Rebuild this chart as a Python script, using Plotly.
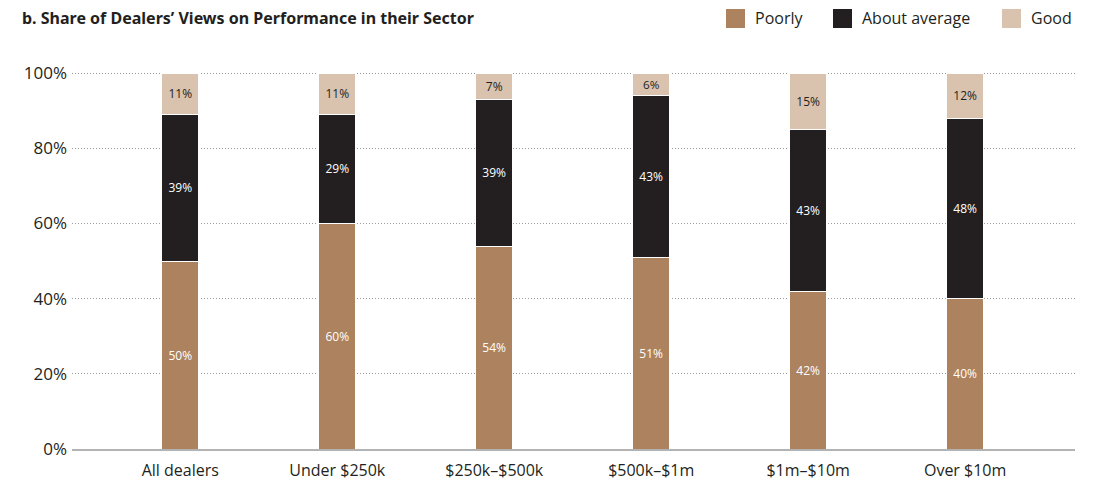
import plotly.graph_objects as go

categories = ["All dealers", "Under $250k", "$250k–$500k", "$500k–$1m", "$1m–$10m", "Over $10m"]
poorly = [50, 60, 54, 51, 42, 40]
about_average = [39, 29, 39, 43, 43, 48]
good = [11, 11, 7, 6, 15, 12]
y_ticks = [0, 20, 40, 60, 80, 100]

series = [
    ("Poorly", poorly, "#ad825e", "white"),
    ("About average", about_average, "#231f20", "white"),
    ("Good", good, "#d9c2ae", "#231f20"),
]

W, H = 1094, 483
PL, PR, PT, PB = 72, 19, 72, 34
PW, PH = W - PL - PR, H - PT - PB

fig = go.Figure()
for name, vals, color, txtcolor in series:
    fig.add_trace(go.Bar(
        name=name,
        x=categories,
        y=vals,
        marker=dict(color=color, line=dict(color="white", width=1)),
        text=[f"{v}%" for v in vals],
        textposition="inside",
        insidetextanchor="middle",
        textangle=0,
        textfont=dict(family="Open Sans", size=12, color=txtcolor),
        width=0.235,
        showlegend=False,
    ))

# Legend drawn as swatches + labels along the top right
legend_x = [726, 833, 1002]
for (name, _, color, _), lx in zip(series, legend_x):
    fig.add_shape(
        type="rect", xref="paper", yref="paper",
        x0=(lx - PL) / PW, x1=(lx + 19 - PL) / PW,
        y0=1 + (PT - 28) / PH, y1=1 + (PT - 9) / PH,
        fillcolor=color, line=dict(width=0), layer="above",
    )
    fig.add_annotation(
        x=(lx + 27 - PL) / PW, y=1 + (PT - 18.5) / PH,
        xref="paper", yref="paper", xanchor="left", yanchor="middle",
        text=name, showarrow=False,
        font=dict(family="Open Sans", size=16, color="#231f20"),
    )

fig.update_layout(
    barmode="stack",
    width=W,
    height=H,
    margin=dict(l=PL, r=PR, t=PT, b=PB, autoexpand=False),
    plot_bgcolor="white",
    paper_bgcolor="white",
    showlegend=False,
    title=dict(
        text="<b>b. Share of Dealers’ Views on Performance in their Sector</b>",
        x=22 / W, xanchor="left", xref="container",
        y=1 - 18 / H, yanchor="middle", yref="container",
        font=dict(family="Noto Sans", size=16, color="#231f20"),
    ),
    xaxis=dict(
        range=[-0.69, 5.70],
        showgrid=False,
        showline=True,
        linecolor="#b3b3b3",
        linewidth=1.5,
        ticks="",
        ticklabelstandoff=6,
        tickfont=dict(family="Open Sans", size=16, color="#231f20"),
    ),
    yaxis=dict(
        range=[0, 100.3],
        tickmode="array",
        tickvals=y_ticks,
        ticktext=[f"{t}%" for t in y_ticks],
        showgrid=True,
        gridcolor="#9a9a9a",
        griddash="1px,2px",
        gridwidth=1,
        zeroline=False,
        ticks="",
        ticklabelstandoff=4,
        tickfont=dict(family="Open Sans", size=17, color="#231f20"),
    ),
)

fig.write_html("out.html")
